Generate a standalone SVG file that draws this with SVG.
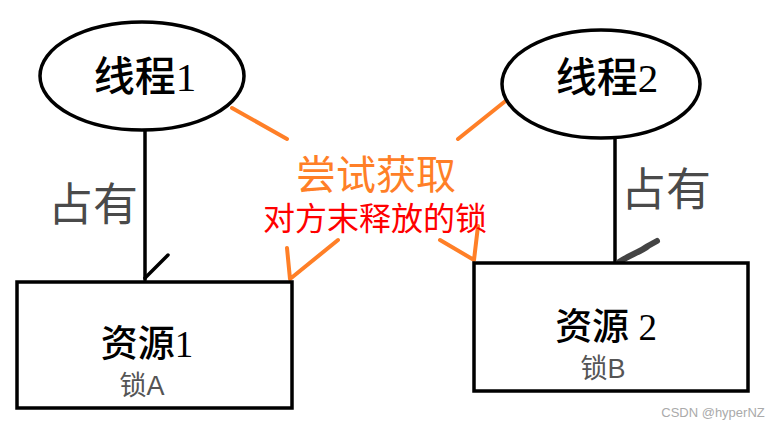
<svg xmlns="http://www.w3.org/2000/svg" width="775" height="428" viewBox="0 0 775 428">
<style>
.shape{fill:#fff;stroke:#000;stroke-width:3.5}
.line{fill:none;stroke:#000;stroke-width:3.5;stroke-linecap:round}
.orange{fill:none;stroke:#ff7f27;stroke-width:4;stroke-linecap:round;stroke-linejoin:round}
.title{font-family:"Liberation Serif","Noto Sans CJK SC",serif;fill:#000;text-anchor:middle}
.cjk{font-family:"Noto Sans CJK SC",sans-serif;font-weight:500}
.lock{font-family:"Liberation Sans","Noto Sans CJK SC",sans-serif;fill:#555;font-size:27px;text-anchor:middle}
.own{font-family:"Noto Sans CJK SC",sans-serif;fill:#4a4a4a;font-size:45px;text-anchor:middle}
</style>
<rect width="775" height="428" fill="#fff"/>
<g id="connectors">
  <line class="line" x1="145" y1="130" x2="145" y2="280"/>
  <line class="line" x1="145" y1="278" x2="168" y2="255"/>
  <line class="line" x1="615" y1="138" x2="615" y2="263"/>
  <path d="M619,262 C630,255 640,252 648,246 L657,241" fill="none" stroke="#444" stroke-width="6" stroke-linecap="round"/>
  <line class="orange" x1="232" y1="108" x2="287" y2="139"/>
  <line class="orange" x1="508" y1="99" x2="458" y2="139"/>
  <polyline class="orange" points="287,248 290,279 338,240"/>
  <polyline class="orange" points="440,240 474,260 478,226"/>
</g>
<g id="thread1">
  <ellipse class="shape" cx="142" cy="76" rx="102" ry="54"/>
  <text class="title" x="145" y="91" font-size="41"><tspan class="cjk">线程</tspan>1</text>
</g>
<g id="thread2">
  <ellipse class="shape" cx="601" cy="84" rx="99" ry="54"/>
  <text class="title" x="607" y="92" font-size="41"><tspan class="cjk">线程</tspan>2</text>
</g>
<g id="resource1">
  <rect class="shape" x="17" y="282" width="275" height="126"/>
  <text class="title" x="147" y="357" font-size="37"><tspan class="cjk">资源</tspan>1</text>
  <text class="lock" x="142" y="395">锁A</text>
</g>
<g id="resource2">
  <rect class="shape" x="474" y="263" width="274" height="128"/>
  <text class="title" x="606" y="340" font-size="37"><tspan class="cjk">资源</tspan> 2</text>
  <text class="lock" x="603" y="378">锁B</text>
</g>
<g id="labels">
  <text class="own" x="93" y="221">占有</text>
  <text class="own" x="666" y="206">占有</text>
  <text x="376" y="189" font-family="Noto Sans CJK SC,sans-serif" font-size="40" fill="#ff7f27" text-anchor="middle">尝试获取</text>
  <text x="375" y="230" font-family="Noto Sans CJK SC,sans-serif" font-size="32" fill="#ff0000" text-anchor="middle">对方末释放的锁</text>
  <text x="713" y="417" font-family="Liberation Sans,sans-serif" font-size="13" fill="#aaa" text-anchor="middle">CSDN @hyperNZ</text>
</g>
</svg>
